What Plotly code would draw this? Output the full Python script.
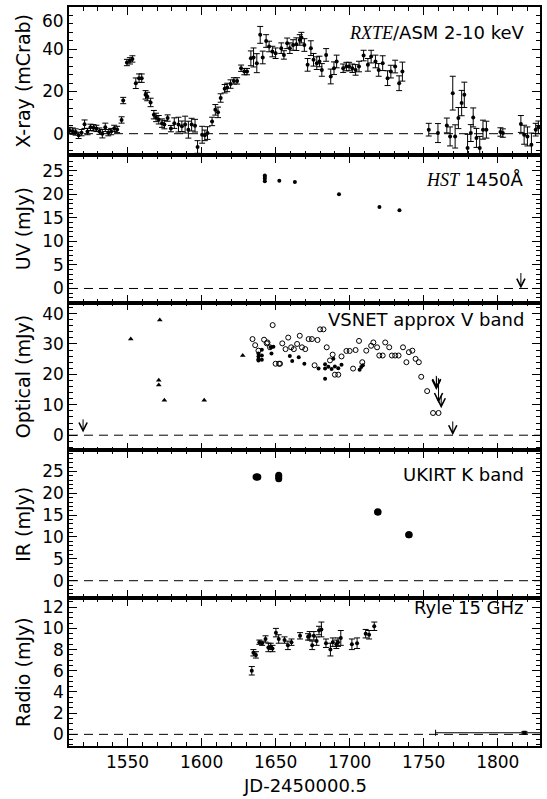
import plotly.graph_objects as go
from plotly.subplots import make_subplots

# ---- RXTE/ASM 2-10 keV (mCrab)
xray_jd = [1511, 1513, 1515, 1517, 1519, 1521, 1523, 1525, 1527, 1529, 1531, 1533, 1535, 1537, 1539,
           1541, 1543, 1546, 1547.1, 1549.6, 1551.6, 1553.3, 1555.6, 1557.8, 1559.6, 1562.2, 1563.3,
           1565.6, 1567.8, 1569.3, 1571.1, 1573.3, 1574.9, 1577.1, 1579.3, 1581.6, 1584.4, 1586.7,
           1588.9, 1591.1, 1593.3, 1595.6, 1597.3, 1600.4, 1602.2, 1604, 1607.1, 1609.3, 1611.1,
           1612.9, 1615.6, 1617.3, 1619.6, 1621.8, 1624, 1626.7, 1628.9, 1630.7, 1633.3, 1635.1,
           1637.3, 1639.6, 1641.3, 1643.6, 1645.6, 1647.8, 1650, 1653.8, 1655.6, 1657.8, 1659.6,
           1661.8, 1664, 1666.3, 1667.4, 1669.4, 1671.6, 1673.8, 1675.6, 1677.8, 1679.6, 1681.2,
           1684.1, 1687.2, 1689.4, 1691.2, 1695.6, 1697.8, 1699.6, 1701.8, 1704, 1706.3, 1709.4,
           1712.3, 1714.5, 1717.4, 1719.6, 1722.3, 1725.6, 1727.8, 1730.7, 1733.4, 1735.6,
           1753.4, 1759.6, 1765.6, 1767.8, 1769.6, 1771.2, 1773.4, 1775.6, 1777.4, 1779.6, 1781.8,
           1783.4, 1785.6, 1787.8, 1790, 1792.3, 1801.8, 1803.4, 1815.6, 1817.8, 1820, 1822.7,
           1825.6, 1827.4]
xray_val = [1.5, 1.2, 0.8, -0.8, 0.5, 4.5, 1.0, 3.0, 2.8, 2.5, 1.2, 0.0, 3.0, 0.5, 1.0,
            2.5, 2.0, 6.5, 15.7, 33.7, 34.5, 35.4, 23.9, 26.3, 26.3, 18.4, 17.6,
            14.8, 9.0, 7.7, 6.6, 5.0, 4.3, 7.4, 2.4, 5.0, 4.3, 3.5,
            4.3, 1.9, 4.3, 3.8, -6.3, -0.5, -0.8, 0.3, 5.8, 11.3, 10.1,
            16.9, 21.3, 21.9, 23.5, 25.0, 25.0, 31.0, 29.4, 29.4, 35.7, 36.1,
            33.4, 46.8, 36.1, 43.9, 41.3, 38.9, 38.1, 40.5, 37.3, 42.8, 40.5,
            42.0, 42.4, 44.4, 45.5, 42.0, 32.6, 40.5, 35.0, 33.4, 34.2, 30.2,
            37.3, 27.1, 31.0, 34.2, 31.0, 31.8, 31.8, 31.0, 30.2, 31.8, 37.0,
            32.6, 36.5, 34.2, 30.2, 33.4, 26.3, 29.4, 31.8, 23.9, 29.4,
            1.9, 0.3, 3.9, -1.3, 19.2, -1.3, 7.4, 14.5, 18.4, -6.8, 0.3,
            7.7, -2.0, -6.8, 1.9, 1.9, 0.8, 0.3, 4.6, -0.5, -1.3, -5.2,
            1.9, 3.0]
xray_err = [1.5, 1.5, 1.5, 1.5, 1.5, 2.0, 1.5, 1.5, 1.5, 1.5, 1.5, 2.0, 2.0, 1.5, 1.5,
            1.5, 1.5, 1.5, 1.5, 1.5, 1.5, 1.5, 2.5, 2.0, 2.0, 2.0, 2.0,
            2.0, 2.0, 2.0, 2.0, 2.0, 2.0, 1.5, 1.5, 2.5, 3.5, 2.5,
            4.0, 4.0, 3.0, 3.0, 3.0, 4.0, 2.5, 3.0, 2.0, 2.5, 2.5,
            2.0, 2.0, 2.0, 2.0, 1.5, 1.5, 1.5, 1.5, 1.5, 3.5, 4.5,
            4.5, 4.0, 3.0, 3.0, 2.5, 2.5, 2.5, 2.5, 2.0, 2.5, 2.5,
            2.5, 3.0, 2.5, 2.5, 3.0, 3.0, 3.5, 3.0, 3.0, 2.5, 3.0,
            3.0, 3.5, 3.0, 3.0, 2.0, 2.0, 2.0, 2.0, 2.5, 2.5, 2.5,
            3.0, 3.0, 3.0, 3.0, 3.5, 3.5, 3.0, 3.0, 3.5, 4.5,
            3.0, 4.5, 3.5, 4.5, 8.0, 5.5, 5.0, 6.0, 6.0, 6.5, 4.0,
            4.5, 4.5, 5.5, 4.5, 4.0, 2.0, 2.0, 4.0, 4.5, 4.5, 5.5,
            3.0, 3.0]

# ---- HST 1450A (mJy)
uv_jd = [1642.7, 1642.7, 1642.7, 1642.7, 1652.5, 1663.0, 1692.8, 1720.1, 1733.6]
uv_val = [22.8, 23.3, 23.7, 24.0, 22.9, 22.6, 20.0, 17.3, 16.6]
uv_lim_jd = [1815.6]
uv_lim_top = [3.6]
uv_lim_val = [0.0]

# ---- VSNET approx V band (mJy)
opt_tri_jd = [1552.2, 1571.8, 1571.1, 1571.1, 1574.9, 1601.8, 1627.8]
opt_tri_val = [31.6, 37.9, 18.1, 16.5, 11.5, 11.5, 26.2]
opt_open_jd = [1634.4, 1636.2, 1638.4, 1642.2, 1644.0, 1644.5, 1646.2, 1648.0, 1650.0, 1652.3, 1653.0,
               1654.5, 1656.7, 1658.5, 1660.5, 1662.3, 1664.5, 1666.3, 1667.8, 1670.0, 1672.3,
               1674.5, 1676.3, 1678.3, 1680.0, 1682.3, 1684.5, 1686.7, 1688.5, 1690.0, 1692.3,
               1694.5, 1697.8, 1700.0, 1702.3, 1704.0, 1706.3, 1708.5, 1711.2, 1714.5, 1716.0,
               1718.5, 1720.0, 1722.3, 1724.0, 1726.7, 1728.5, 1730.7, 1733.0, 1736.0, 1738.3,
               1740.0, 1742.3, 1744.5, 1746.7, 1748.3, 1752.3, 1756.3, 1760.0]
opt_open_val = [31.6, 29.6, 27.8, 31.4, 30.2, 30.5, 28.9, 36.2, 23.5, 23.5, 23.5,
                30.2, 28.3, 32.1, 28.9, 28.3, 30.0, 32.7, 28.9, 28.3, 31.6,
                31.6, 23.0, 31.3, 34.8, 34.8, 28.9, 24.6, 26.5, 19.9, 19.9,
                25.9, 27.7, 27.7, 21.9, 28.0, 31.0, 24.0, 27.8, 29.4, 30.5,
                28.9, 26.2, 26.2, 30.5, 28.9, 26.2, 26.2, 26.2, 28.9, 24.0,
                27.3, 27.8, 25.1, 24.0, 19.2, 14.5, 7.3, 7.3]
opt_fill_jd = [1638.4, 1638.4, 1638.4, 1638.4, 1640.7, 1640.7, 1640.7, 1646.7, 1647.2, 1648.5,
               1659.6, 1661.2, 1665.6, 1669.4, 1679.0, 1683.4, 1683.4, 1683.4, 1685.6, 1687.8,
               1689.0, 1690.0, 1692.3, 1694.5, 1706.7, 1707.8, 1708.9]
opt_fill_val = [26.9, 25.9, 25.0, 24.6, 28.1, 26.2, 24.8, 28.9, 26.9, 29.1,
                26.0, 24.4, 25.6, 23.5, 21.9, 18.6, 21.9, 23.3, 22.5, 21.8,
                25.1, 22.6, 22.0, 23.2, 21.5, 22.4, 23.0]
opt_lim_jd = [1520.0, 1758.5, 1758.7, 1760.0, 1761.8, 1769.6]
opt_lim_top = [5.7, 20.0, 19.5, 19.2, 13.3, 5.0]
opt_lim_val = [0.9, 14.9, 15.2, 10.6, 8.9, 0.0]

# ---- UKIRT K band (mJy)
ir_jd = [1636.8, 1637.4, 1638.0, 1652.1, 1652.1, 1652.1, 1718.8, 1719.2, 1739.8, 1740.2]
ir_val = [23.7, 23.7, 23.7, 23.3, 23.7, 24.1, 15.7, 15.7, 10.5, 10.5]

# ---- Ryle 15 GHz (mJy)
radio_jd = [1633.9, 1635.0, 1636.7, 1639.0, 1640.9, 1643.2, 1645.1, 1646.7, 1647.9, 1650.2, 1652.1,
            1656.0, 1658.3, 1660.7, 1666.5, 1671.9, 1673.0, 1674.7, 1675.8, 1677.7, 1679.3,
            1680.9, 1684.0, 1687.0, 1688.6, 1691.0, 1692.1, 1694.0, 1701.5, 1705.0, 1710.8,
            1713.1, 1716.6]
radio_val = [6.0, 7.7, 7.5, 8.7, 8.6, 9.0, 8.2, 8.3, 8.1, 9.6, 9.0,
             8.9, 8.4, 8.7, 9.3, 9.2, 9.3, 8.4, 9.3, 8.8, 9.8,
             9.9, 8.6, 8.0, 8.7, 8.5, 8.7, 9.1, 8.5, 8.6, 9.5,
             9.4, 10.2]
radio_err = [0.4, 0.3, 0.3, 0.2, 0.2, 0.3, 0.4, 0.3, 0.3, 0.4, 0.4,
             0.3, 0.4, 0.3, 0.3, 0.3, 0.4, 0.4, 0.4, 0.4, 0.4,
             0.7, 0.4, 0.6, 0.4, 0.4, 0.4, 0.7, 0.5, 0.5, 0.4,
             0.4, 0.4]
radio_late_jd = [1818.0]
radio_late_val = [0.15]
radio_late_xlo = [60.0]
radio_late_xhi = [60.0]

FONT = "DejaVu Sans, Verdana, sans-serif"
SERIF = "Liberation Serif, Times New Roman, serif"

fig = make_subplots(rows=5, cols=1, shared_xaxes=True, vertical_spacing=0)

dot = dict(color="black", size=4)
ebar = dict(type="data", color="black", thickness=1, width=3)

fig.add_trace(go.Scatter(x=xray_jd, y=xray_val, mode="markers", marker=dot,
                         error_y=dict(array=xray_err, **ebar)), row=1, col=1)

fig.add_trace(go.Scatter(x=uv_jd, y=uv_val, mode="markers", marker=dot), row=2, col=1)

fig.add_trace(go.Scatter(x=opt_tri_jd, y=opt_tri_val, mode="markers",
                         marker=dict(symbol="triangle-up", color="black", size=5)), row=3, col=1)
fig.add_trace(go.Scatter(x=opt_open_jd, y=opt_open_val, mode="markers",
                         marker=dict(symbol="circle-open", color="black", size=5,
                                     line=dict(width=1))), row=3, col=1)
fig.add_trace(go.Scatter(x=opt_fill_jd, y=opt_fill_val, mode="markers", marker=dot), row=3, col=1)

fig.add_trace(go.Scatter(x=ir_jd, y=ir_val, mode="markers",
                         marker=dict(color="black", size=7)), row=4, col=1)

fig.add_trace(go.Scatter(x=radio_jd, y=radio_val, mode="markers", marker=dot,
                         error_y=dict(array=radio_err, **ebar)), row=5, col=1)
fig.add_trace(go.Scatter(x=radio_late_jd, y=radio_late_val, mode="markers",
                         marker=dict(color="black", size=4, symbol="square"),
                         error_x=dict(array=radio_late_xhi, arrayminus=radio_late_xlo, **ebar),
                         error_y=dict(array=[0.1], **ebar)), row=5, col=1)


# upper limits drawn as arrows pointing down
def add_limits(jds, tops, lows, row):
    ax = "x%d" % row
    ay = "y%d" % row
    for j, t, l in zip(jds, tops, lows):
        fig.add_annotation(x=j, y=l, ax=j, ay=t, xref=ax, yref=ay, axref=ax, ayref=ay,
                           showarrow=True, arrowhead=5, arrowsize=1.6, arrowwidth=1,
                           arrowcolor="black", text="", standoff=0)


add_limits(uv_lim_jd, uv_lim_top, uv_lim_val, 2)
add_limits(opt_lim_jd, opt_lim_top, opt_lim_val, 3)

yranges = [[-10, 60], [-3, 28.4], [-5, 43.6], [-4, 29.8], [-1.1, 12.85]]
ydticks = [20, 5, 10, 5, 2]
yminor = [4, 1, 2, 1, 0.5]
ytitles = ["X-ray (mCrab)", "UV (mJy)", "Optical (mJy)", "IR (mJy)", "Radio (mJy)"]

for i in range(5):
    r = i + 1
    fig.add_hline(y=0, row=r, col=1, line=dict(color="black", width=1, dash="9px,6px"))
    fig.update_yaxes(row=r, col=1, range=yranges[i], dtick=ydticks[i], tick0=0,
                     ticks="inside", ticklen=8, tickwidth=1, tickcolor="black",
                     minor=dict(dtick=yminor[i], ticks="inside", ticklen=4, tickcolor="black"),
                     showline=True, linecolor="black", linewidth=1.5, mirror="allticks",
                     showgrid=False, zeroline=False,
                     title=dict(text=ytitles[i], font=dict(size=19, family=FONT), standoff=7),
                     tickfont=dict(size=17, family=FONT, color="black"))
    fig.update_xaxes(row=r, col=1, range=[1510.5, 1828.5], dtick=50, tick0=1500,
                     ticks="inside", ticklen=8, tickwidth=1, tickcolor="black",
                     minor=dict(dtick=10, ticks="inside", ticklen=4, tickcolor="black"),
                     showline=True, linecolor="black", linewidth=1.5, mirror="allticks",
                     showgrid=False, zeroline=False,
                     tickfont=dict(size=17, family=FONT, color="black"))

# the 60 label sits just inside the top edge
fig.update_yaxes(row=1, col=1, tickvals=[0, 20, 40], ticktext=["0", "20", "40"])
fig.add_annotation(xref="paper", yref="y", x=0, y=60, xanchor="right", yanchor="top",
                   xshift=-3, yshift=-2, text="60", showarrow=False,
                   font=dict(size=17, family=FONT, color="black"))

# x-axis title, anchored by its bottom so it stays inside the page
fig.add_annotation(xref="paper", yref="paper", x=0.5, y=0, xanchor="center", yanchor="bottom",
                   yshift=-52, text="JD-2450000.5", showarrow=False,
                   font=dict(size=18, family=FONT, color="black"))

labels = [
    ("<span style='font-family:%s'><i>RXTE</i></span>/ASM 2-10 keV" % SERIF, 0.97, 0.965),
    ("<span style='font-family:%s'><i>HST</i></span> 1450Å" % SERIF, 0.97, 0.766),
    ("VSNET approx V band", 0.97, 0.577),
    ("UKIRT K band", 0.97, 0.368),
    ("Ryle 15 GHz", 0.97, 0.188),
]
for txt, lx, ly in labels:
    fig.add_annotation(xref="paper", yref="paper", x=lx, y=ly, xanchor="right", yanchor="middle",
                       text=txt, showarrow=False, font=dict(size=18, family=FONT, color="black"))

fig.update_layout(width=547, height=799, margin=dict(l=69, r=5, t=5, b=53),
                  plot_bgcolor="white", paper_bgcolor="white", showlegend=False,
                  font=dict(family=FONT, color="black"))

# the page's default body margin would push the figure 8px down and right
fig.write_html("out.html", config={"displayModeBar": False},
               post_script="document.body.style.margin='0';")
